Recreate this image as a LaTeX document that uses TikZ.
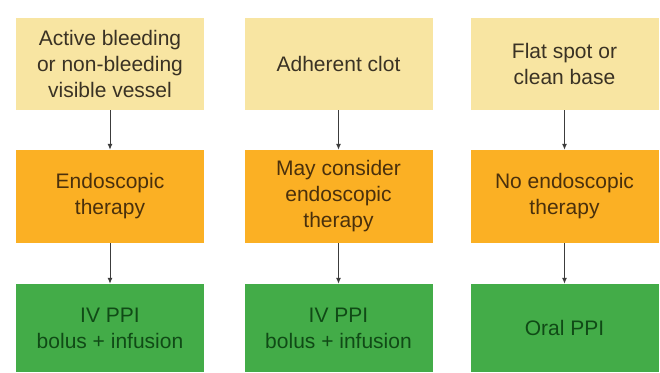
\documentclass[tikz,border=0pt]{standalone}
\usepackage{fontspec}
\setmainfont{Liberation Sans}
\usetikzlibrary{arrows.meta}
\definecolor{ylw}{HTML}{F8E5A2}
\definecolor{org}{HTML}{FBB024}
\definecolor{grn}{HTML}{43AC48}
\definecolor{ytxt}{HTML}{3A3224}
\definecolor{otxt}{HTML}{4A300C}
\definecolor{gtxt}{HTML}{104A16}
\definecolor{arr}{HTML}{3C3C3C}
\tikzset{
  box/.style={minimum width=188pt, inner sep=0pt, align=center,
    font=\fontsize{21}{26}\selectfont},
  top/.style={box, fill=ylw, text=ytxt, minimum height=92pt},
  mid/.style={box, fill=org, text=otxt, minimum height=93pt},
  bot/.style={box, fill=grn, text=gtxt, minimum height=88pt},
  link/.style={draw=arr, line width=1pt, -{Latex[length=6pt,width=5pt]}}
}
\begin{document}
\begin{tikzpicture}[x=1pt,y=-1pt]
\useasboundingbox (0,0) rectangle (660,372);
\fill[white] (0,0) rectangle (660,372);
\node[top] (t1) at (110,64) {Active bleeding\\or non-bleeding\\visible vessel};
\node[top] (t2) at (338.5,64) {Adherent clot};
\node[top] (t3) at (564.5,64) {Flat spot or\\clean base};
\node[mid] (m1) at (110,196.5) {Endoscopic\\therapy};
\node[mid] (m2) at (338.5,196.5) {May consider\\endoscopic\\therapy};
\node[mid] (m3) at (564.5,196.5) {No endoscopic\\therapy};
\node[bot] (b1) at (110,328) {IV PPI\\bolus + infusion};
\node[bot] (b2) at (338.5,328) {IV PPI\\bolus + infusion};
\node[bot] (b3) at (564.5,328) {Oral PPI};
\foreach \c in {1,2,3}{
  \draw[link] (t\c) -- (m\c);
  \draw[link] (m\c) -- (b\c);
}
\end{tikzpicture}
\end{document}
